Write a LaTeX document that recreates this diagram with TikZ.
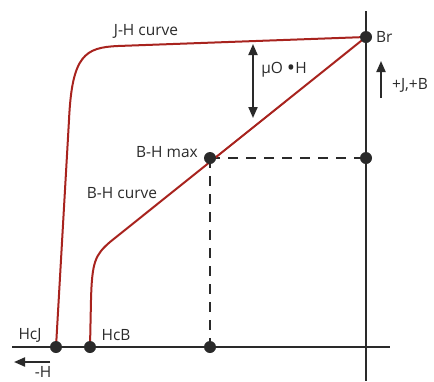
\documentclass[tikz,border=0pt]{standalone}
\usepackage{fontspec}
\setmainfont{Open Sans}
\usetikzlibrary{arrows.meta}
\definecolor{curvered}{HTML}{A8231E}
\definecolor{ink}{HTML}{2A2A2A}
\tikzset{
  axisline/.style={draw=ink, line width=2.4pt},
  curveline/.style={draw=curvered, line width=2pt},
  dashline/.style={draw=ink, line width=2.4pt, dash pattern=on 10pt off 8pt},
  dotnode/.style={circle, fill=ink, inner sep=0pt, minimum size=12pt},
  lbl/.style={text=ink, font=\fontsize{15.5}{18}\selectfont, inner sep=0pt},
  arr/.style={draw=ink, line width=2pt, -{Triangle[length=11pt,width=9pt]}},
  darr/.style={draw=ink, line width=2pt, {Triangle[length=11pt,width=9pt]}-{Triangle[length=11pt,width=9pt]}}
}
\begin{document}
\begin{tikzpicture}[x=1pt,y=-1pt]
\useasboundingbox (0,0) rectangle (434,381);
% axes
\coordinate (xl) at (12,347);
\coordinate (xr) at (390,347);
\coordinate (yt) at (366,11);
\coordinate (yb) at (366,381);
\draw[axisline] (xl) -- (xr);
\draw[axisline] (yt) -- (yb);
% key points
\coordinate (Br) at (366,37);
\coordinate (BHm) at (210,158);
\coordinate (BrY) at (366,158);
\coordinate (BHx) at (210,347);
\coordinate (HcJ) at (56,347);
\coordinate (HcB) at (90,347);
% dashed
\draw[dashline] (BHm) -- (BrY);
\draw[dashline] (BHm) -- (BHx);
% curves
\draw[curveline] (HcJ) -- (69,120) .. controls (72,55) and (85,47.5) .. (118,46) -- (Br);
\draw[curveline] (HcB) -- (91,300) .. controls (92,262) and (95,255) .. (110,242) -- (Br);
% dots
\node[dotnode] (dBr) at (Br) {};
\node[dotnode] (dBHm) at (BHm) {};
\node[dotnode] (dBrY) at (BrY) {};
\node[dotnode] (dBHx) at (BHx) {};
\node[dotnode] (dHcJ) at (HcJ) {};
\node[dotnode] (dHcB) at (HcB) {};
% arrows
\coordinate (m1) at (253,44);
\coordinate (m2) at (253,118);
\draw[darr] (m1) -- (m2);
\coordinate (u1) at (381,98);
\coordinate (u2) at (381,61);
\draw[arr] (u1) -- (u2);
\coordinate (l1) at (50,362);
\coordinate (l2) at (14,362);
\draw[arr] (l1) -- (l2);
% labels
\node[lbl] (tJH) at (146,31) {J-H curve};
\node[lbl, anchor=west] (tBr) at (376,37) {Br};
\node[lbl] (tmu) at (284,70) {µO {\fontsize{22}{22}\selectfont\raisebox{-1.5pt}{•}}H};
\node[lbl] (tJB) at (410,85) {+J,+B};
\node[lbl] (tBHm) at (167,152) {B-H max};
\node[lbl] (tBHc) at (122,193) {B-H curve};
\node[lbl] (tHcJ) at (30,335) {HcJ};
\node[lbl] (tHcB) at (116,335) {HcB};
\node[lbl] (tH) at (43,372) {-H};
\end{tikzpicture}
\end{document}
